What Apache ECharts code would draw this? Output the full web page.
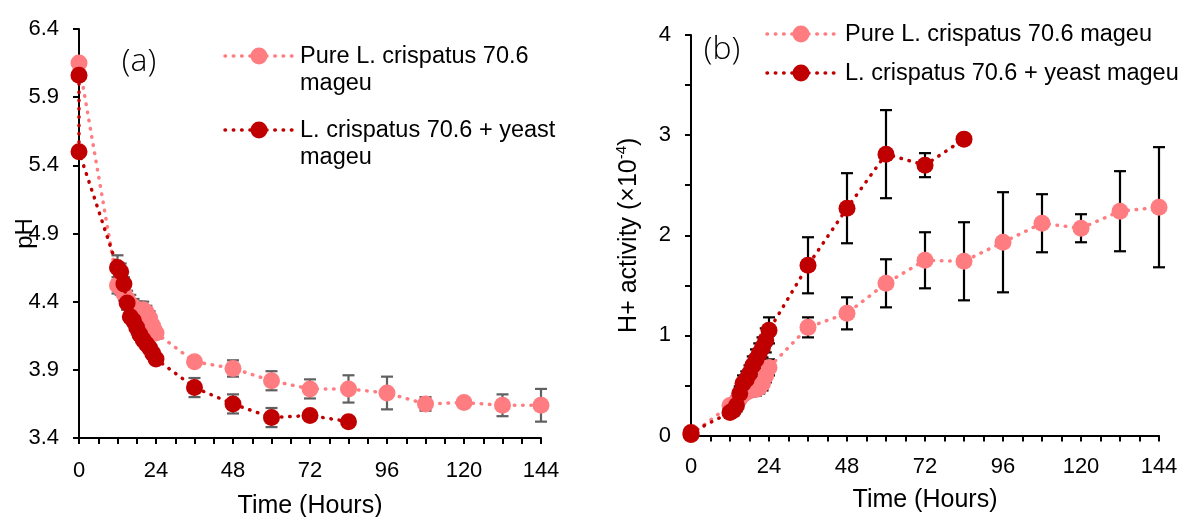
<!DOCTYPE html>
<html><head><meta charset="utf-8">
<script src="https://cdn.jsdelivr.net/npm/echarts@6/dist/echarts.min.js"></script>
<style>html,body{margin:0;padding:0;background:#fff}#c{width:1186px;height:517px}</style>
</head><body><div id="c"></div>
<script>
// ---------- data ----------
const xTicks = [0, 24, 48, 72, 96, 120, 144];
const hoursPure = [0,12,13,14,15,16,17,18,19,20,21,22,23,24,36,48,60,72,84,96,108,120,132,144];
const pHPure    = [6.15,4.52,4.50,4.46,4.42,4.38,4.36,4.34,4.33,4.34,4.32,4.28,4.22,4.17,3.96,3.91,3.82,3.76,3.76,3.73,3.65,3.66,3.64,3.64];
const pHPureErr = [0,0.06,0.05,0.05,0.06,0.07,0.06,0.06,0.07,0.06,0.05,0.05,0.04,0.04,0.02,0.06,0.07,0.07,0.10,0.12,0.05,0.02,0.08,0.12];
const hoursYeast = [0,0,12,13,14,15,16,17,18,19,20,21,22,23,24,36,48,60,72,84];
const pHYeast    = [6.06,5.50,4.65,4.62,4.53,4.39,4.29,4.26,4.21,4.16,4.12,4.09,4.06,4.02,3.98,3.77,3.65,3.55,3.565,3.52];
const pHYeastErr = [0,0,0.09,0.06,0.05,0.05,0.04,0.04,0.05,0.04,0.04,0.03,0.03,0.03,0.03,0.07,0.07,0.07,0.02,0];
const hPure     = [0.01,0.30,0.31,0.34,0.37,0.41,0.43,0.45,0.47,0.46,0.48,0.52,0.60,0.68,1.08,1.22,1.52,1.75,1.74,1.93,2.12,2.07,2.24,2.28];
const hPureErr  = [0,0.04,0.04,0.05,0.05,0.05,0.05,0.06,0.06,0.06,0.06,0.07,0.07,0.08,0.10,0.16,0.24,0.28,0.39,0.50,0.29,0.14,0.40,0.60];
const hYeast    = [0.01,0.03,0.23,0.25,0.30,0.42,0.52,0.56,0.62,0.70,0.76,0.82,0.88,0.95,1.05,1.70,2.27,2.81,2.70,2.96];
const hYeastErr = [0,0,0.05,0.05,0.06,0.07,0.08,0.08,0.08,0.09,0.10,0.10,0.10,0.12,0.13,0.28,0.35,0.44,0.12,0];
const namePure = 'Pure L. crispatus 70.6 mageu';
const nameYeast = 'L. crispatus 70.6 + yeast mageu';

// ---------- styles ----------
const PINK = '#FF7C80', RED = '#C00000';
const FONT = '"Liberation Sans", Arial, sans-serif';
const chart = echarts.init(document.getElementById('c'), null, {renderer: 'canvas'});

function zip(a, b) { return a.map((v, i) => [v, b[i]]); }
function errSeries(idx, times, vals, errs, color) {
  const data = [];
  times.forEach((t, i) => { if (errs[i] > 0) data.push([t, vals[i] - errs[i], vals[i] + errs[i]]); });
  return {
    type: 'custom', xAxisIndex: idx, yAxisIndex: idx, z: 2, silent: true,
    encode: {x: 0, y: [1, 2]}, data,
    renderItem(params, api) {
      const x = api.value(0);
      const lo = api.coord([x, api.value(1)]), hi = api.coord([x, api.value(2)]);
      const hw = 6, st = {stroke: color, lineWidth: 2.2};
      return {type: 'group', children: [
        {type: 'line', shape: {x1: lo[0], y1: lo[1], x2: hi[0], y2: hi[1]}, style: st},
        {type: 'line', shape: {x1: lo[0] - hw, y1: lo[1], x2: lo[0] + hw, y2: lo[1]}, style: st},
        {type: 'line', shape: {x1: hi[0] - hw, y1: hi[1], x2: hi[0] + hw, y2: hi[1]}, style: st}
      ]};
    }
  };
}
function lineSeries(idx, name, times, vals, color, z) {
  return {
    type: 'line', name, xAxisIndex: idx, yAxisIndex: idx, z,
    data: zip(times, vals), symbol: 'circle', symbolSize: 17, showSymbol: true,
    itemStyle: {color, opacity: 1}, lineStyle: {color, width: 3.5, type: [0.5, 7.8], cap: 'round'},
    emphasis: {disabled: true}, animation: false
  };
}
const axisLine = {show: true, lineStyle: {color: '#000', width: 2}};
const tick = {show: true, inside: false, length: 6, lineStyle: {color: '#000', width: 2}};
function xAxis(idx, margin, gap) {
  return {
    type: 'value', gridIndex: idx, min: 0, max: 144, interval: 24,
    axisLine, axisTick: tick,
    minorTick: {show: true, splitNumber: 4, length: 6, lineStyle: {color: '#000', width: 2}},
    splitLine: {show: false}, minorSplitLine: {show: false},
    axisLabel: {fontSize: 22, color: '#000', fontFamily: FONT, margin},
    name: 'Time (Hours)', nameLocation: 'middle', nameGap: gap, nameMoveOverlap: false,
    nameTextStyle: {fontSize: 25, color: '#000', fontFamily: FONT}
  };
}

const legendItems = [];
function legendEntry(x1, x2, cx, y, color, text, tx, ty) {
  legendItems.push({type: 'line', shape: {x1, y1: y, x2, y2: y},
    style: {stroke: color, lineWidth: 3.5, lineDash: [0.5, 7.8], lineCap: 'round'}});
  legendItems.push({type: 'circle', shape: {cx, cy: y, r: 8.5}, style: {fill: color}});
  legendItems.push({type: 'text', x: tx, y: ty,
    style: {text, fill: '#000', font: '23.5px ' + FONT, lineHeight: 27, verticalAlign: 'top'}});
}
legendEntry(225, 295, 259, 56, PINK, 'Pure L. crispatus 70.6\nmageu', 300, 43);
legendEntry(225, 295, 259, 130, RED, 'L. crispatus 70.6 + yeast\nmageu', 300, 117);
legendEntry(767, 836, 801, 34, PINK, namePure, 845, 21);
legendEntry(767, 836, 801, 73, RED, nameYeast, 845, 60);
legendItems.push({type: 'text', x: 139, y: 62, style: {text: '(a)', fill: '#000',
  font: '300 32px "Open Sans", "DejaVu Sans", sans-serif', align: 'center', verticalAlign: 'middle'}});
legendItems.push({type: 'text', x: 722, y: 50, style: {text: '(b)', fill: '#000',
  font: '300 32px "Open Sans", "DejaVu Sans", sans-serif', align: 'center', verticalAlign: 'middle'}});

const option = {
  animation: false,
  backgroundColor: '#fff',
  grid: [
    {left: 79, top: 29, width: 462, height: 409, containLabel: false, outerBoundsMode: 'none'},
    {left: 691, top: 35, width: 468, height: 400.5, containLabel: false, outerBoundsMode: 'none'}
  ],
  xAxis: [xAxis(0, 22, 56), xAxis(1, 20, 52)],
  yAxis: [
    {type: 'value', gridIndex: 0, min: 3.4, max: 6.4, interval: 0.5,
     axisLine, axisTick: tick, splitLine: {show: false},
     axisLabel: {fontSize: 22, color: '#000', fontFamily: FONT, margin: 20,
       formatter: v => v.toFixed(1)},
     name: 'pH', nameLocation: 'middle', nameGap: 42, nameMoveOverlap: false,
     nameTextStyle: {fontSize: 24, color: '#000', fontFamily: FONT}},
    {type: 'value', gridIndex: 1, min: 0, max: 4, interval: 1,
     axisLine, axisTick: tick, splitLine: {show: false},
     minorTick: {show: true, splitNumber: 2, length: 6, lineStyle: {color: '#000', width: 2}},
     minorSplitLine: {show: false},
     axisLabel: {fontSize: 22, color: '#000', fontFamily: FONT, margin: 20},
     name: '{a|H+ activity (×10}{s|-4}{a|)}', nameLocation: 'middle', nameGap: 47, nameMoveOverlap: false,
     nameTextStyle: {color: '#000', fontFamily: FONT,
       rich: {a: {fontSize: 25, fontFamily: FONT, color: '#000', lineHeight: 30},
              s: {fontSize: 15, fontFamily: FONT, color: '#000', lineHeight: 30, verticalAlign: 'top', padding: [0, 0, 10, 0]}}}}
  ],
  series: [
    errSeries(0, hoursPure, pHPure, pHPureErr, '#606060'),
    errSeries(0, hoursYeast, pHYeast, pHYeastErr, '#606060'),
    lineSeries(0, namePure, hoursPure, pHPure, PINK, 3),
    lineSeries(0, nameYeast, hoursYeast, pHYeast, RED, 4),
    errSeries(1, hoursPure, hPure, hPureErr, '#000'),
    errSeries(1, hoursYeast, hYeast, hYeastErr, '#000'),
    lineSeries(1, namePure, hoursPure, hPure, PINK, 3),
    lineSeries(1, nameYeast, hoursYeast, hYeast, RED, 4)
  ],
  graphic: legendItems
};
chart.setOption(option);
</script></body></html>
